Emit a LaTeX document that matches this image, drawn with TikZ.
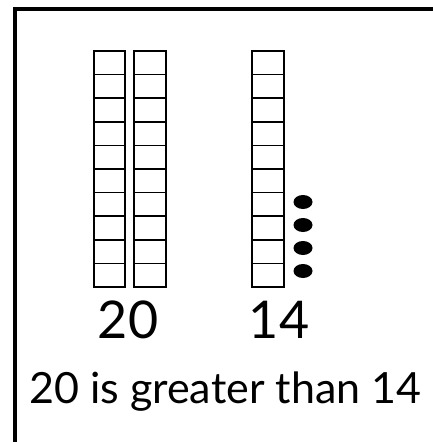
\documentclass[tikz,border=0pt]{standalone}
\usepackage{fontspec}
\setmainfont{Lato}
\begin{document}
\begin{tikzpicture}[x=1pt,y=-1pt,
  frameline/.style={line width=4pt},
  cell/.style={draw, line width=1.5pt},
  dot/.style={fill=black},
  bignum/.style={inner sep=0pt, anchor=base, font=\fontsize{52}{52}\selectfont},
  sentence/.style={inner sep=0pt, anchor=base west, font=\fontsize{43}{43}\selectfont}]
\useasboundingbox (0,0) rectangle (433,442);
\clip (0,0) rectangle (433,442);
\fill[white] (0,0) rectangle (433,442);
% frame (cropped)
\draw[frameline] (15,460) -- (15,9) -- (460,9);
% ten-rods
\foreach \x/\w in {94/31,134/32,252/32}{
  \foreach \i in {0,...,9}{
    \draw[cell] (\x,51+23.6*\i) rectangle ++(\w,23.6);
  }
}
% ones
\foreach \yy in {202,225,248,271}{
  \fill[dot] (303,\yy) ellipse [x radius=9.5, y radius=7];
}
\node[bignum] (n20) at (128,338) {20};
\node[bignum] (n14) at (279,338) {14};
\node[sentence] (txt) at (29,403) {20 is greater than 14};
\end{tikzpicture}
\end{document}
